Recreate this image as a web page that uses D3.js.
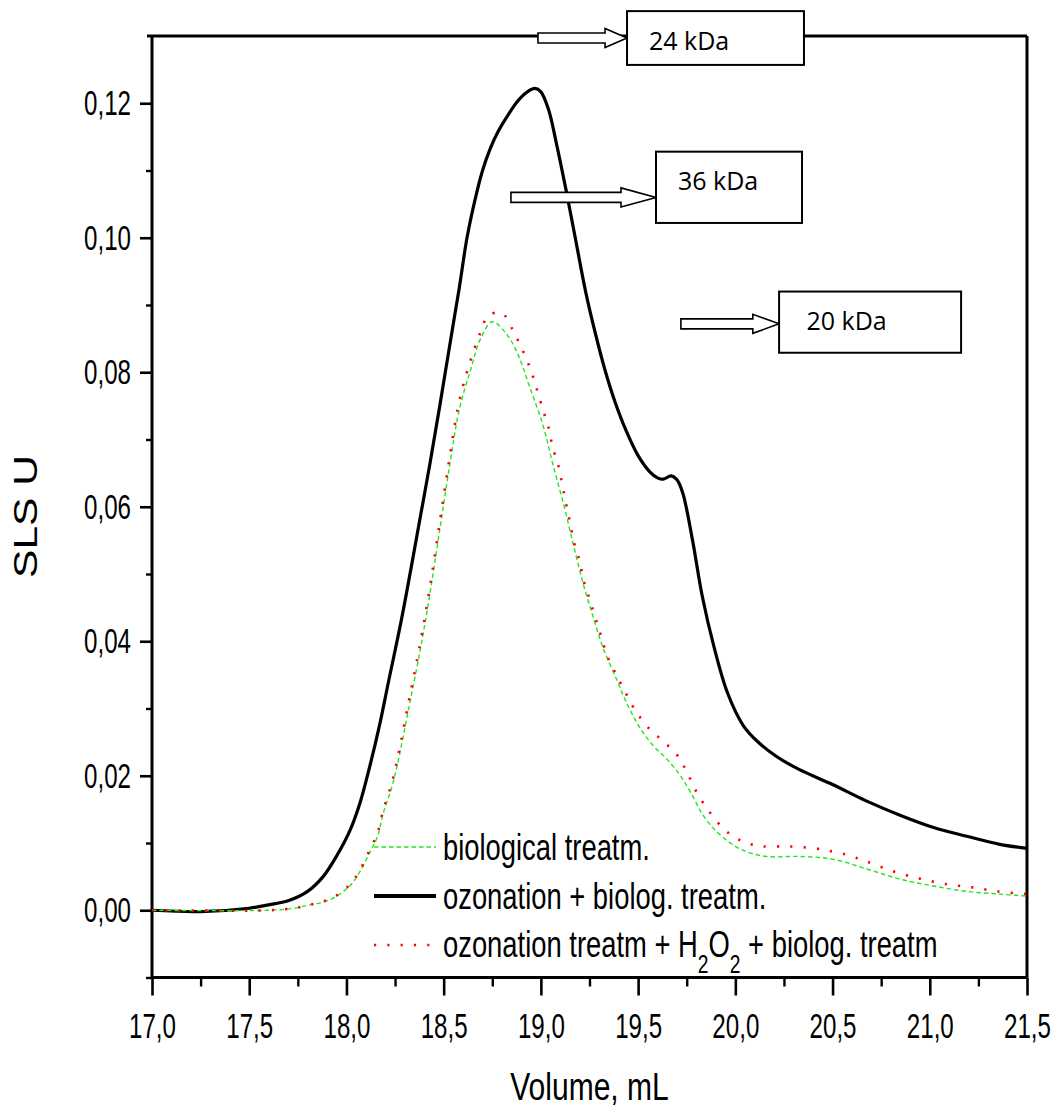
<!DOCTYPE html>
<html><head><meta charset="utf-8">
<script src="https://cdn.jsdelivr.net/npm/d3@7"></script>
<style>body{margin:0;background:#fff}svg{display:block}</style>
</head><body>
<svg id="chart" width="1059" height="1115"></svg>
<script>
// ---------- data ----------
const xTickValues = [17.0, 17.5, 18.0, 18.5, 19.0, 19.5, 20.0, 20.5, 21.0, 21.5];
const xMinorTicks = [17.25, 17.75, 18.25, 18.75, 19.25, 19.75, 20.25, 20.75, 21.25];
const yTickValues = [0.00, 0.02, 0.04, 0.06, 0.08, 0.10, 0.12];
const yMinorTicks = [-0.01, 0.01, 0.03, 0.05, 0.07, 0.09, 0.11];

const seriesNames = ["biological treatm.", "ozonation + biolog. treatm.", "ozonation treatm + H2O2 + biolog. treatm"];

// ozonation + biolog. treatm. (black solid)
const volOzoBio = [17.00,17.25,17.50,17.60,17.70,17.80,17.88,17.95,18.02,18.07,18.12,18.17,18.22,18.28,18.33,18.38,18.43,18.48,18.53,18.58,18.62,18.66,18.70,18.74,18.78,18.83,18.88,18.93,18.97,19.00,19.04,19.08,19.13,19.18,19.23,19.28,19.33,19.38,19.44,19.50,19.56,19.60,19.63,19.67,19.70,19.73,19.78,19.83,19.89,19.96,20.04,20.11,20.21,20.33,20.50,20.67,20.85,21.02,21.19,21.36,21.50];
const sigOzoBio = [0,-0.0002,0.0003,0.0008,0.0014,0.0028,0.0050,0.0081,0.0120,0.0160,0.0214,0.0275,0.0345,0.0428,0.0505,0.0585,0.0665,0.0750,0.0838,0.0925,0.1000,0.1055,0.1100,0.1133,0.1158,0.1182,0.1203,0.1217,0.1222,0.1217,0.1190,0.1140,0.1070,0.0995,0.0920,0.0858,0.0803,0.0757,0.0712,0.0676,0.0652,0.0643,0.0641,0.0646,0.0640,0.0620,0.0550,0.0467,0.0392,0.0323,0.0275,0.0252,0.0229,0.0209,0.0187,0.0163,0.0141,0.0123,0.0110,0.0098,0.0092];

// biological treatm. (green dashed)
const volBio = [17.00,17.60,17.73,17.81,17.88,17.95,18.02,18.07,18.12,18.16,18.19,18.23,18.26,18.32,18.38,18.43,18.48,18.53,18.58,18.64,18.69,18.75,18.82,18.88,18.94,19.01,19.06,19.12,19.17,19.22,19.27,19.32,19.39,19.44,19.51,19.58,19.65,19.72,19.78,19.83,19.89,19.96,20.04,20.16,20.33,20.50,20.68,20.85,21.02,21.19,21.36,21.50];
const sigBio = [0,0,0.0003,0.0008,0.0012,0.0021,0.0037,0.0058,0.0086,0.0110,0.0145,0.0180,0.0214,0.0300,0.0388,0.0472,0.0566,0.0660,0.0744,0.0805,0.0850,0.0875,0.0858,0.0828,0.0780,0.0722,0.0665,0.0600,0.0540,0.0483,0.0435,0.0390,0.0343,0.0309,0.0271,0.0244,0.0224,0.0199,0.0170,0.0143,0.0121,0.0103,0.0089,0.0080,0.0080,0.0076,0.0061,0.0046,0.0036,0.0028,0.0024,0.0021];

// ozonation treatm + H2O2 + biolog. treatm (red dotted)
const volOzoH2O2 = [17.00,17.60,17.73,17.81,17.88,17.95,18.02,18.07,18.12,18.16,18.19,18.23,18.26,18.32,18.38,18.43,18.48,18.53,18.58,18.63,18.69,18.73,18.80,18.86,18.91,18.95,18.98,19.01,19.04,19.06,19.09,19.11,19.13,19.15,19.17,19.20,19.22,19.25,19.28,19.31,19.34,19.39,19.44,19.49,19.56,19.63,19.70,19.75,19.80,19.86,19.93,20.00,20.07,20.14,20.27,20.41,20.47,20.54,20.61,20.68,20.81,20.95,21.08,21.22,21.35,21.50];
const sigOzoH2O2 = [0,0,0.0003,0.0008,0.0013,0.0022,0.0039,0.0060,0.0090,0.0115,0.0150,0.0186,0.0222,0.0310,0.0398,0.0482,0.0577,0.0672,0.0757,0.0810,0.0860,0.0884,0.0888,0.0860,0.0830,0.0802,0.0774,0.0745,0.0717,0.0689,0.0661,0.0633,0.0604,0.0576,0.0548,0.0518,0.0490,0.0463,0.0435,0.0407,0.0379,0.0349,0.0321,0.0295,0.0269,0.0251,0.0231,0.0206,0.0176,0.0149,0.0124,0.0108,0.0099,0.0095,0.0095,0.0092,0.0089,0.0085,0.0079,0.0072,0.0058,0.0047,0.0039,0.0034,0.0028,0.0024];

// molecular-weight annotations (data units)
const markerLabels = ["24 kDa", "36 kDa", "20 kDa"];
const markerBoxX = [[19.443, 20.353], [19.592, 20.343], [20.225, 21.161]];
const markerBoxY = [[0.1337, 0.1257], [0.1128, 0.1022], [0.0920, 0.0829]];
const markerArrowX = [[18.985, 19.330], [18.846, 19.412], [19.720, 20.090]];
const markerArrowY = [0.1297, 0.1060, 0.0872];
const markerTextX = [19.556, 19.705, 20.366];
const markerTextY = [0.1279, 0.1071, 0.0863];

// ---------- chart ----------
const svg = d3.select("#chart");
const FONT = "'Liberation Sans', Arial, sans-serif";
const x = d3.scaleLinear().domain([17, 21.5]).range([152, 1027]);
const y = d3.scaleLinear().domain([-0.01, 0.13]).range([977.5, 36]);
const comma = f => v => d3.format(f)(v).replace(".", ",").replace("−", "-");

// bottom axis
const gx = svg.append("g").attr("transform", `translate(0,${y(-0.01)})`)
  .call(d3.axisBottom(x).tickValues(xTickValues).tickSize(18).tickFormat(comma(".1f")));
gx.select(".domain").remove();
gx.selectAll("line").attr("stroke", "#000").attr("stroke-width", 2.6);
gx.selectAll("text")
  .attr("x", 0).attr("y", 0).attr("dy", null)
  .attr("transform", "translate(0,60) scale(0.69,1)")
  .attr("font-family", FONT).attr("font-size", 35).attr("fill", "#000");
const gxm = svg.append("g").attr("transform", `translate(0,${y(-0.01)})`)
  .call(d3.axisBottom(x).tickValues(xMinorTicks).tickSize(9).tickFormat(""));
gxm.select(".domain").remove();
gxm.selectAll("line").attr("stroke", "#000").attr("stroke-width", 2.4);

// left axis
const gy = svg.append("g").attr("transform", `translate(${x(17)},0)`)
  .call(d3.axisLeft(y).tickValues(yTickValues).tickSize(12).tickFormat(comma(".2f")));
gy.select(".domain").remove();
gy.selectAll("line").attr("stroke", "#000").attr("stroke-width", 2.6);
gy.selectAll("text")
  .attr("x", 0).attr("y", 0).attr("dy", null)
  .attr("transform", "translate(-21,11.5) scale(0.69,1)")
  .attr("font-family", FONT).attr("font-size", 35).attr("fill", "#000");
const gym = svg.append("g").attr("transform", `translate(${x(17)},0)`)
  .call(d3.axisLeft(y).tickValues(yMinorTicks).tickSize(6).tickFormat(""));
gym.select(".domain").remove();
gym.selectAll("line").attr("stroke", "#000").attr("stroke-width", 2.4);

// frame
const frame = svg.append("g").attr("stroke", "#000").attr("stroke-width", 3).attr("fill", "none");
frame.append("line").attr("x1", x(17)).attr("x2", x(17)).attr("y1", y(0.13)).attr("y2", y(-0.01));
frame.append("line").attr("x1", x(17)).attr("x2", x(21.5)).attr("y1", y(-0.01)).attr("y2", y(-0.01));
frame.append("line").attr("x1", x(21.5)).attr("x2", x(21.5)).attr("y1", y(0.13)).attr("y2", y(-0.01));
frame.append("line").attr("x1", x(17) - 5).attr("x2", x(21.5)).attr("y1", y(0.13)).attr("y2", y(0.13));

// series
const zip = (xs, ys) => xs.map((v, i) => [v, ys[i]]);
const line = d3.line().x(d => x(d[0])).y(d => y(d[1])).curve(d3.curveCatmullRom.alpha(0.5));
svg.append("path").datum(zip(volOzoBio, sigOzoBio)).attr("d", line)
  .attr("fill", "none").attr("stroke", "#000").attr("stroke-width", 3.2).attr("stroke-linejoin", "round");
svg.append("path").datum(zip(volBio, sigBio)).attr("d", line)
  .attr("fill", "none").attr("stroke", "#22e622").attr("stroke-width", 1.4).attr("stroke-dasharray", "4.5 3");
svg.append("path").datum(zip(volOzoH2O2, sigOzoH2O2)).attr("d", line)
  .attr("fill", "none").attr("stroke", "#ff0000").attr("stroke-width", 2.6).attr("stroke-dasharray", "2.2 11.1");

// legend
const leg = svg.append("g");
const legRows = [
  {ly: 847, ty: 860, stroke: "#22e622", w: 1.4, dash: "4.5 3"},
  {ly: 896, ty: 909, stroke: "#000", w: 4.2, dash: null},
  {ly: 945, ty: 957, stroke: "#ff0000", w: 2.6, dash: "2.2 11.1"}
];
legRows.forEach((r, i) => {
  leg.append("line").attr("x1", 374).attr("x2", 436).attr("y1", r.ly).attr("y2", r.ly)
    .attr("stroke", r.stroke).attr("stroke-width", r.w).attr("stroke-dasharray", r.dash);
  const t = leg.append("text").attr("transform", `translate(443,${r.ty}) scale(0.74,1)`)
    .attr("font-family", FONT).attr("font-size", 37).attr("fill", "#000");
  if (i === 2) {
    t.append("tspan").text("ozonation treatm + H");
    t.append("tspan").attr("font-size", 26).attr("dy", 16).text("2");
    t.append("tspan").attr("dy", -16).text("O");
    t.append("tspan").attr("font-size", 26).attr("dy", 16).text("2");
    t.append("tspan").attr("dy", -16).text(" + biolog. treatm");
  } else {
    t.text(seriesNames[i]);
  }
});

// axis titles
svg.append("text").attr("transform", "translate(589.5,1100) scale(0.77,1)")
  .attr("text-anchor", "middle").attr("font-family", FONT).attr("font-size", 39).attr("fill", "#000")
  .text("Volume, mL");
svg.append("text").attr("transform", "translate(37,516.5) rotate(-90) scale(1.29,1)")
  .attr("text-anchor", "middle").attr("font-family", FONT).attr("font-size", 33).attr("fill", "#000")
  .text("SLS U");

// annotations: arrows + boxes
const ann = svg.append("g");
markerLabels.forEach((lab, i) => {
  const [ax0, axh] = markerArrowX[i];
  const tip = markerBoxX[i][0];
  const yc = y(markerArrowY[i]);
  const X0 = x(ax0), XH = x(axh), XT = x(tip);
  const pts = [[X0, yc - 5], [XH, yc - 5], [XH, yc - 9.5], [XT, yc], [XH, yc + 9.5], [XH, yc + 5], [X0, yc + 5]];
  ann.append("path").attr("d", "M" + pts.map(p => p.join(",")).join("L") + "Z")
    .attr("fill", "#fff").attr("stroke", "#000").attr("stroke-width", 1.6).attr("stroke-linejoin", "miter");
  ann.append("rect")
    .attr("x", x(markerBoxX[i][0])).attr("y", y(markerBoxY[i][0]))
    .attr("width", x(markerBoxX[i][1]) - x(markerBoxX[i][0]))
    .attr("height", y(markerBoxY[i][1]) - y(markerBoxY[i][0]))
    .attr("fill", "#fff").attr("stroke", "#000").attr("stroke-width", 2);
  ann.append("text").attr("x", x(markerTextX[i])).attr("y", y(markerTextY[i]))
    .attr("font-family", "'Open Sans', 'Noto Sans', sans-serif").attr("font-size", 25).attr("fill", "#000")
    .text(lab);
});
</script>
</body></html>
